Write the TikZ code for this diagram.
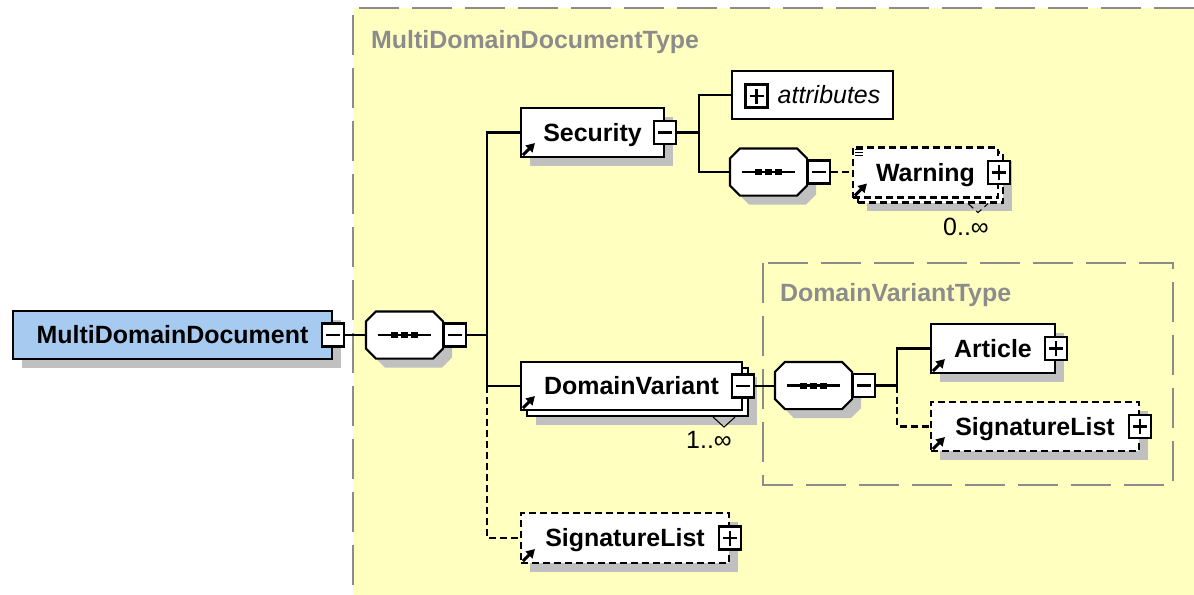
\documentclass[tikz,border=0pt]{standalone}
\usepackage{fontspec}
\setmainfont{Liberation Sans}
\usetikzlibrary{calc,shadows,arrows.meta}

\definecolor{typebg}{HTML}{FFFFC0}
\definecolor{rootblue}{HTML}{A6CAF0}
\definecolor{shadowgray}{HTML}{C0C0C0}
\definecolor{typegray}{HTML}{8C8C8C}
\newcommand\pxu{0.02cm}
% octagon of a sequence compositor, #2 = offset (shadow)
\newcommand\octpath[2]{($(#1.north west)+(10+#2,#2)$) -- ($(#1.north east)+(-10+#2,#2)$) -- ($(#1.north east)+(#2,10+#2)$) -- ($(#1.south east)+(#2,-10+#2)$) -- ($(#1.south east)+(-10+#2,#2)$) -- ($(#1.south west)+(10+#2,#2)$) -- ($(#1.south west)+(#2,-10+#2)$) -- ($(#1.north west)+(#2,10+#2)$) -- cycle}

\tikzset{
  elem/.style={draw, fill=white, minimum height=49*\pxu, inner sep=0pt, text height=10.2pt, text depth=0pt, font=\fontsize{14.2}{17}\selectfont\bfseries},
  shad/.style={drop shadow={shadow xshift=0.18cm, shadow yshift=-0.18cm, fill=shadowgray, opacity=1}},
  opt/.style={dash pattern=on 0.14cm off 0.08cm},
  btn/.style={draw, fill=white, minimum width=22*\pxu, minimum height=23*\pxu, inner sep=0pt},
  minus/.style={btn, path picture={\draw ([xshift=4*\pxu]path picture bounding box.west) -- ([xshift=-4*\pxu]path picture bounding box.east);}},
  plus/.style={btn, path picture={\draw ([xshift=4*\pxu]path picture bounding box.west) -- ([xshift=-4*\pxu]path picture bounding box.east); \draw ([yshift=4*\pxu]path picture bounding box.south) -- ([yshift=-4*\pxu]path picture bounding box.north);}},
  seq/.style={minimum width=75*\pxu, minimum height=45*\pxu, inner sep=0pt},
  typeline/.style={draw=typegray, line width=0.04cm, dash pattern=on 0.8cm off 0.26cm},
  typelabel/.style={anchor=west, text=typegray, text height=10.2pt, text depth=0pt, inner sep=0pt, font=\fontsize{14.2}{17}\selectfont\bfseries},
  mult/.style={inner sep=0pt, font=\fontsize{14.2}{17}\selectfont},
  refarrow/.style={line width=1.8pt, -{Triangle[length=0.17cm, width=0.19cm]}}
}

\begin{document}
\begin{tikzpicture}[x=0.02cm, y=-0.02cm, line width=1.2pt]
  \useasboundingbox (0,0) rectangle (1194,595);
  \fill[white] (0,0) rectangle (1194,595);
  % type boxes
  \fill[typebg] (353,8) rectangle (1194,595);
  \draw[typeline] (1194,8) -- (353,8) -- (353,595);
  \node[typelabel] (mddt) at (370,40) {MultiDomainDocumentType};
  \draw[typeline] (763,263) rectangle (1173,485);
  \node[typelabel] (dvt) at (779,293) {DomainVariantType};

  % elements
  \node[elem, shad, fill=rootblue, minimum width=319*\pxu, minimum height=48*\pxu] (mdd) at (172.5,335) {MultiDomainDocument};
  \node[elem, shad, minimum width=143*\pxu] (sec) at (592.5,132.5) {Security};
  \node[elem, minimum width=161*\pxu, minimum height=48*\pxu, font=\fontsize{14.2}{17}\selectfont\itshape] (att) at (812.5,95) {\hspace*{0.66cm}attributes};
  \node[elem, opt, shad, minimum width=145*\pxu, minimum height=50*\pxu] (warn-back) at (930.5,177.5) {};
  \node[elem, opt, minimum width=145*\pxu, minimum height=50*\pxu] (warn) at (925.5,172.5) {Warning};
  \node[elem, shad, minimum width=221*\pxu, minimum height=48*\pxu] (dv-back) at (637.5,392) {};
  \node[elem, minimum width=221*\pxu, minimum height=48*\pxu] (dv) at (631.5,386) {DomainVariant};
  \node[elem, opt, shad, minimum width=208*\pxu, minimum height=50*\pxu] (sl) at (625,538) {SignatureList};
  \node[elem, shad, minimum width=124*\pxu] (art) at (993,348.5) {Article};
  \node[elem, opt, shad, minimum width=208*\pxu] (sl2) at (1035,426.5) {SignatureList};

  % compositors
  \node[seq] (seq1) at (404.5,335) {};
  \node[seq] (seq2) at (768.5,172) {};
  \node[seq] (seq3) at (813.5,385.5) {};
  \foreach \s in {seq1,seq2,seq3}{
    \fill[shadowgray] \octpath{\s}{9};
    \draw[fill=white] \octpath{\s}{0};
    \draw ($(\s.center)+(-27,0)$) -- ($(\s.center)+(26,0)$);
    \foreach \d in {-10,0,10}
      \fill ($(\s.center)+(\d-3.5,-3)$) rectangle ++(7,6);
  }

  % buttons
  \node[minus] (mdd-b) at (mdd.east) {};
  \node[minus, anchor=west] (seq1-b) at (seq1.east) {};
  \node[minus] (sec-b) at (sec.east) {};
  \node[plus] (att-b) at (756.5,96) {};
  \node[minus, anchor=west] (seq2-b) at (seq2.east) {};
  \node[plus] (warn-b) at (warn.east) {};
  \node[minus] (dv-b) at (dv.east) {};
  \node[minus, anchor=west] (seq3-b) at (seq3.east) {};
  \node[plus] (art-b) at (art.east) {};
  \node[plus] (sl-b) at (sl.east) {};
  \node[plus] (sl2-b) at (sl2.east) {};

  % reference arrows, doc mark, occurrences
  \foreach \n in {sec,warn,dv,sl,art,sl2}
    \draw[refarrow] ($(\n.south west)+(3,-3)$) -- ++(12,-12);
  \foreach \k in {0,3,6}
    \draw[line width=0.6pt] ($(warn.north west)+(3,3+\k)$) -- ++(8,0);
  \draw[line width=0.6pt] ($(dv-back.south east)+(-36,0)$) -- ++(11,10) -- ++(11,-10);
  \draw[line width=0.6pt, opt] ($(warn-back.south east)+(-36,0)$) -- ++(10,9) -- ++(10,-9);
  \node[mult] (dv-m) at (709,440) {1..∞};
  \node[mult] (warn-m) at (966,227) {0..∞};

  % connectors
  \coordinate (tr1) at (487,335);
  \coordinate (tr2) at (699,132.5);
  \coordinate (tr3) at (897,385.5);
  \draw (mdd-b.east) -- (seq1.west);
  \draw (seq1-b.east) -- (tr1);
  \draw (sec.west) -| (tr1) |- (dv.west);
  \draw[opt] (dv.west -| tr1) |- (sl.west);
  \draw (sec-b.east) -- (tr2);
  \draw (att.west) -| (tr2) |- (seq2.west);
  \draw[opt] (seq2-b.east) -- (seq2-b.east -| warn.west);
  \draw (dv-b.east) -- (dv-b.east -| seq3.west);
  \draw (seq3-b.east) -- (tr3);
  \draw (tr3) |- (art.west);
  \draw[opt] (tr3) |- (sl2.west);
\end{tikzpicture}
\end{document}
